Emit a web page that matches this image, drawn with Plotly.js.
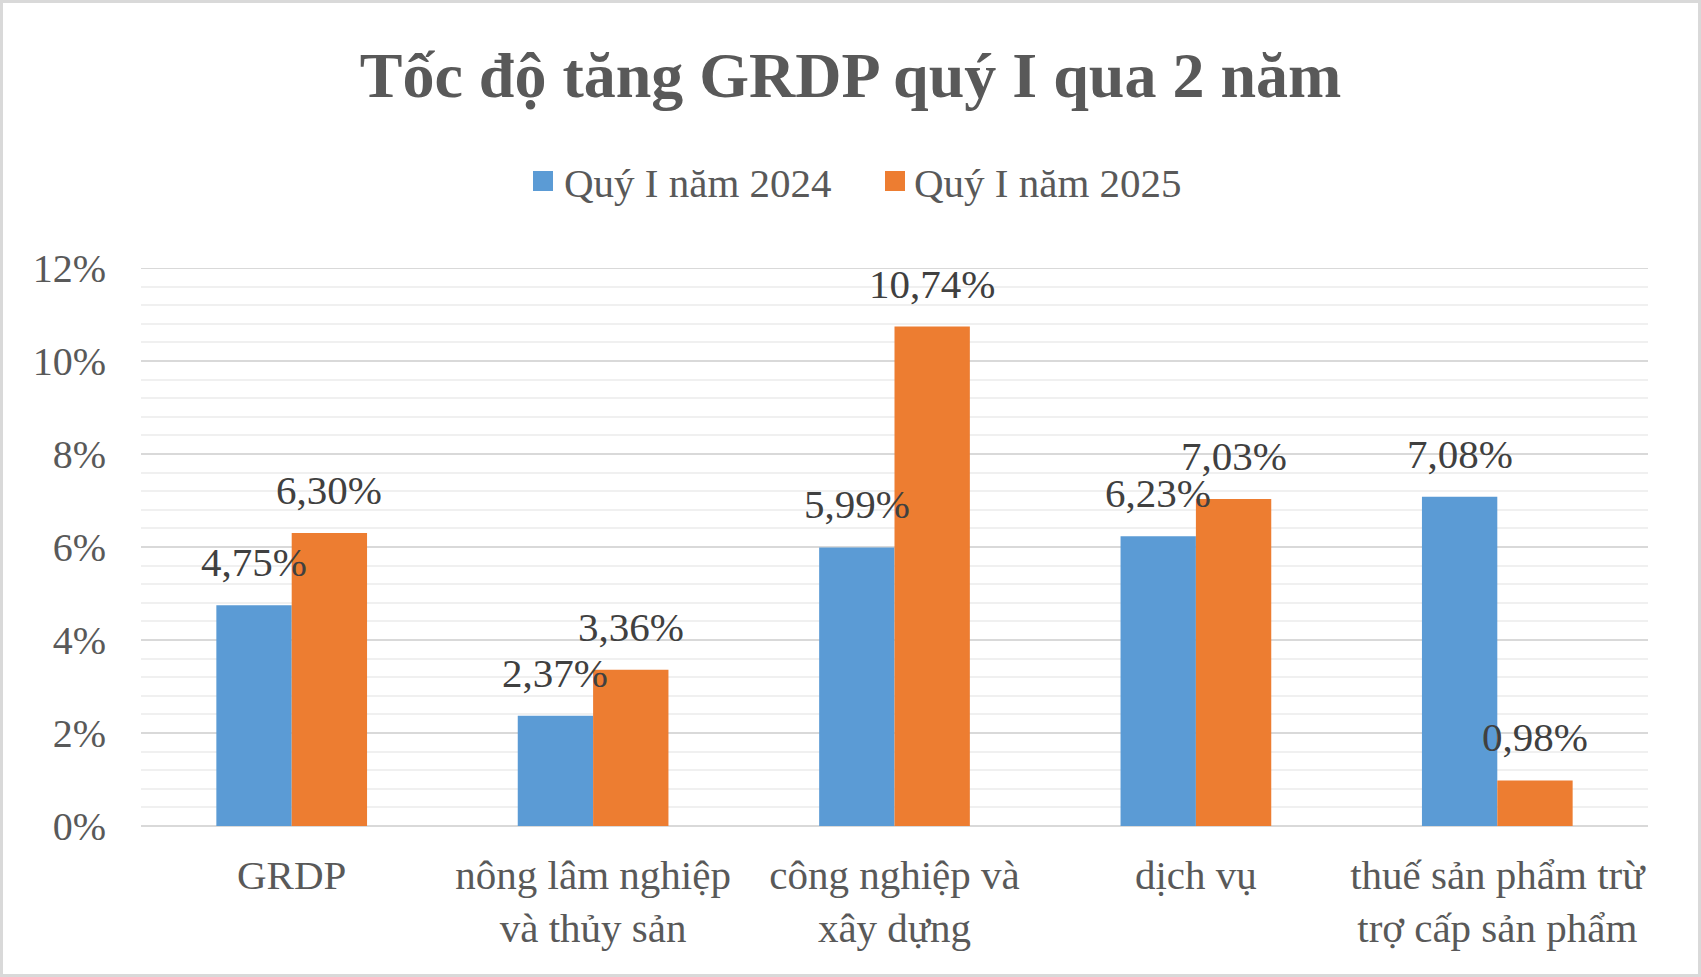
<!DOCTYPE html>
<html>
<head>
<meta charset="utf-8">
<script src="https://cdn.plot.ly/plotly-3.0.1.min.js"></script>
<style>
  html, body { margin: 0; padding: 0; background: #ffffff; }
  #wrap { position: relative; width: 1701px; height: 977px; }
  #chart { width: 1701px; height: 977px; }
  #frame { position: absolute; left: 0; top: 0; width: 1701px; height: 977px;
           box-sizing: border-box; border: 3px solid #d9d9d9; pointer-events: none; }
</style>
</head>
<body>
<div id="wrap">
  <div id="chart"></div>
  <div id="frame"></div>
</div>
<script>
// Growth of GRDP by sector, first quarter, 2024 vs 2025 (%)
const categories = [
  "GRDP",
  "nông lâm nghiệp<br>và thủy sản",
  "công nghiệp và<br>xây dựng",
  "dịch vụ",
  "thuế sản phẩm trừ<br>trợ cấp sản phẩm"
];
const seriesNames = ["Quý I năm 2024", "Quý I năm 2025"];
const values2024 = [4.75, 2.37, 5.99, 6.23, 7.08];
const values2025 = [6.30, 3.36, 10.74, 7.03, 0.98];
const colors = ["#5B9BD5", "#ED7D31"];
const yMax = 12;

const fmt = v => v.toFixed(2).replace(".", ",") + "%";
const serif = "'Liberation Serif', 'Times New Roman', serif";

// figure geometry
const W = 1701, H = 977;
const M = { l: 141, r: 53, t: 268, b: 151 };
const plotW = W - M.l - M.r, plotH = H - M.t - M.b;
const BARGAP = 0.5;
const seriesList = [values2024, values2025];

// pixel <-> paper helpers for items placed outside the plot area
const pxX = px => (px - M.l) / plotW;
const pxY = py => (H - M.b - py) / plotH;

const data = seriesList.map((vals, i) => ({
  type: "bar",
  name: seriesNames[i],
  x: categories,
  y: vals,
  marker: { color: colors[i] },
  hoverinfo: "skip",
  showlegend: false
}));

// value labels above each bar, offset to the bar's slot within its group
const slotW = plotW / categories.length * (1 - BARGAP) / seriesList.length;
const annotations = [];
seriesList.forEach((vals, i) => {
  const shift = (i - (seriesList.length - 1) / 2) * slotW;
  vals.forEach((v, j) => {
    annotations.push({
      x: categories[j], y: v, xref: "x", yref: "y",
      text: fmt(v), showarrow: false,
      xanchor: "center", yanchor: "middle",
      xshift: shift, yshift: 43,
      font: { family: serif, size: 41, color: "#404040" }
    });
  });
});

// top gridline sits exactly on the plot edge, so draw it explicitly
const shapes = [{
  type: "line", xref: "paper", yref: "y",
  x0: 0, x1: 1, y0: yMax, y1: yMax,
  line: { color: "#d9d9d9", width: 2 }, layer: "below"
}];

// legend: colour square + series name
const legendItems = [
  { sq: 533, tx: 562 },
  { sq: 885, tx: 912 }
];
const legendY = 181, sqSize = 20;
legendItems.forEach((it, i) => {
  shapes.push({
    type: "rect", xref: "paper", yref: "paper",
    x0: pxX(it.sq), x1: pxX(it.sq + sqSize),
    y0: pxY(legendY + sqSize / 2), y1: pxY(legendY - sqSize / 2),
    fillcolor: colors[i], line: { width: 0 }
  });
  annotations.push({
    xref: "paper", yref: "paper",
    x: pxX(it.tx), y: pxY(legendY + 2),
    xanchor: "left", yanchor: "middle",
    text: seriesNames[i], showarrow: false,
    font: { family: serif, size: 41, color: "#595959" }
  });
});

const layout = {
  width: W,
  height: H,
  paper_bgcolor: "#ffffff",
  plot_bgcolor: "#ffffff",
  margin: M,
  barmode: "group",
  bargap: BARGAP,
  bargroupgap: 0,
  font: { family: serif, color: "#595959" },
  title: {
    text: "<b>Tốc độ tăng GRDP quý I qua 2 năm</b>",
    font: { family: serif, size: 64, color: "#595959" },
    x: 0.5, xref: "container", xanchor: "center",
    y: 1 - 75 / H, yref: "container", yanchor: "middle"
  },
  showlegend: false,
  xaxis: {
    type: "category",
    tickfont: { family: serif, size: 41, color: "#595959" },
    showgrid: false,
    showline: false,
    ticks: "",
    ticklabelstandoff: 21
  },
  yaxis: {
    range: [0, yMax],
    dtick: 2,
    tick0: 0,
    ticksuffix: "%",
    tickfont: { family: serif, size: 40, color: "#595959" },
    showgrid: true,
    gridcolor: "#d9d9d9",
    gridwidth: 2,
    zeroline: true,
    zerolinecolor: "#d9d9d9",
    zerolinewidth: 2,
    showline: false,
    ticks: "",
    ticklabelstandoff: 34,
    minor: { dtick: 0.4, tick0: 0, showgrid: true, gridcolor: "#f0f0f0", gridwidth: 2 }
  },
  shapes: shapes,
  annotations: annotations
};

Plotly.newPlot("chart", data, layout, { displayModeBar: false, staticPlot: true });
</script>
</body>
</html>
